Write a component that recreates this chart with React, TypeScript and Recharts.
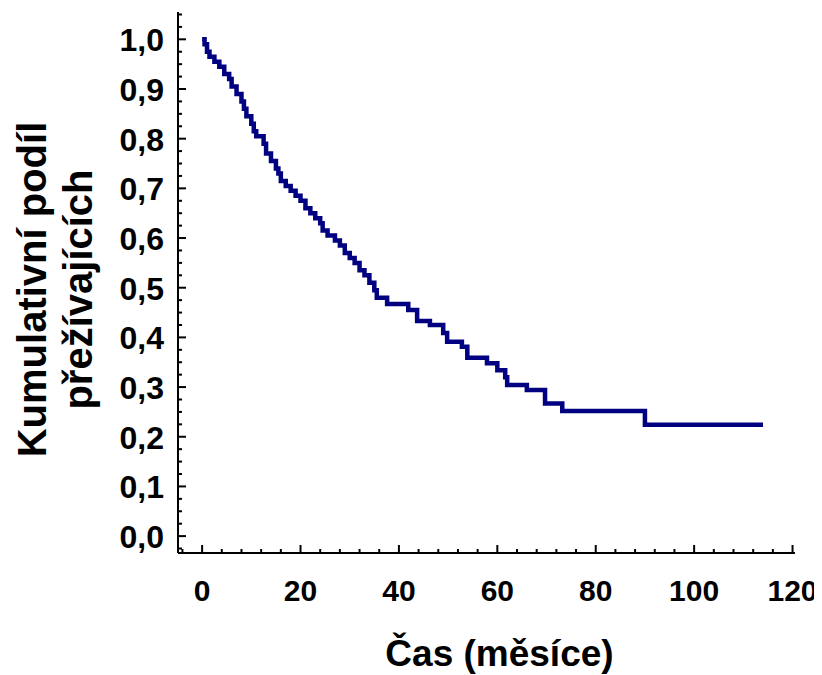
import React from "react";
import { LineChart, Line, XAxis, YAxis } from "recharts";

const times = [0,0.5,1,1.5,2.5,3.5,4.5,5.5,6,7,8,8.5,9,10,10.5,11,12.5,13,14,15,15.5,16,17,18,19,20,21,22,23,24,24.5,25.5,27,28,29,30,31,32,33,34,35,35.5,37.6,41.9,43.7,46.3,49,49.8,52.8,53.9,57.9,60,61.6,62,66,69.7,73.2,90,114];
const survival = [1.0,0.99,0.975,0.965,0.955,0.945,0.93,0.92,0.905,0.89,0.875,0.86,0.845,0.83,0.815,0.805,0.79,0.77,0.755,0.74,0.73,0.715,0.705,0.695,0.685,0.675,0.66,0.65,0.64,0.63,0.615,0.605,0.595,0.585,0.57,0.56,0.55,0.535,0.525,0.51,0.495,0.48,0.467,0.455,0.433,0.425,0.409,0.391,0.381,0.359,0.348,0.334,0.32,0.304,0.294,0.267,0.252,0.224,0.224];
const xMajor = [0,20,40,60,80,100,120];
const xTicks = [-4,0,4,8,12,16,20,24,28,32,36,40,44,48,52,56,60,64,68,72,76,80,84,88,92,96,100,104,108,112,116,120];
const yMajor = [0,0.1,0.2,0.3,0.4,0.5,0.6,0.7,0.8,0.9,1.0];
const yTicks = [-0.025,0,0.025,0.05,0.075,0.1,0.125,0.15,0.175,0.2,0.225,0.25,0.275,0.3,0.325,0.35,0.375,0.4,0.425,0.45,0.475,0.5,0.525,0.55,0.575,0.6,0.625,0.65,0.675,0.7,0.725,0.75,0.775,0.8,0.825,0.85,0.875,0.9,0.925,0.95,0.975,1.0,1.025,1.05];

const data = times.map((t, i) => ({ t, s: survival[i] }));
const font = "Arial, 'Liberation Sans', sans-serif";

const isMajor = (v: number, list: number[]) => list.some((m) => Math.abs(m - v) < 1e-6);

const YTick = (props: any) => {
  const { x, y, payload } = props;
  const major = isMajor(payload.value, yMajor);
  return (
    <g>
      <line x1={x} x2={x + (major ? 8 : 4)} y1={y} y2={y} stroke="#000" strokeWidth={2} />
      {major && (
        <text x={x - 14} y={y} dy={12} textAnchor="end" fontFamily={font} fontWeight="bold" fontSize={32} fill="#000">
          {payload.value.toFixed(1).replace(".", ",")}
        </text>
      )}
    </g>
  );
};

const XTick = (props: any) => {
  const { x, y, payload } = props;
  const major = isMajor(payload.value, xMajor);
  return (
    <g>
      <line x1={x} x2={x} y1={y} y2={y - (major ? 8 : 4)} stroke="#000" strokeWidth={2} />
      {major && (
        <text x={x} y={y} dy={48} textAnchor="middle" fontFamily={font} fontWeight="bold" fontSize={30} fill="#000">
          {payload.value}
        </text>
      )}
    </g>
  );
};

const YLabel = (props: any) => {
  const vb = props.viewBox;
  const cy = vb.y + vb.height / 2 + 7;
  return (
    <g fontFamily={font} fontWeight="bold" fontSize={40} fill="#000" textAnchor="middle">
      <text transform={`translate(24,${cy}) rotate(-90)`} dy="14">Kumulativní podíl</text>
      <text transform={`translate(70,${cy}) rotate(-90)`} dy="14">přežívajících</text>
    </g>
  );
};

const XLabel = (props: any) => {
  const vb = props.viewBox;
  return (
    <text x={vb.x + vb.width / 2 + 13} y={658} textAnchor="middle" fontFamily={font} fontWeight="bold" fontSize={37} fill="#000">
      Čas (měsíce)
    </text>
  );
};

export default function App() {
  return (
    <LineChart width={814} height={667} data={data} margin={{ top: 4, right: 27, left: 70, bottom: 0 }} style={{ overflow: "visible" }}>
      <XAxis dataKey="t" type="number" domain={[-4.9, 120.5]} ticks={xTicks} allowDataOverflow interval={0}
        stroke="#000" strokeWidth={2} tickSize={0} tickMargin={0} tickLine={false} height={122}
        tick={<XTick />} label={{ content: XLabel }} />
      <YAxis dataKey="s" type="number" domain={[-0.034, 1.055]} ticks={yTicks} allowDataOverflow width={100} interval={0}
        stroke="#000" strokeWidth={2} tickSize={0} tickMargin={0} tickLine={false}
        tick={<YTick />} label={{ content: YLabel }} />
      <Line type="stepAfter" dataKey="s" stroke="#000080" strokeWidth={4.5} dot={false} isAnimationActive={false} />
    </LineChart>
  );
}
